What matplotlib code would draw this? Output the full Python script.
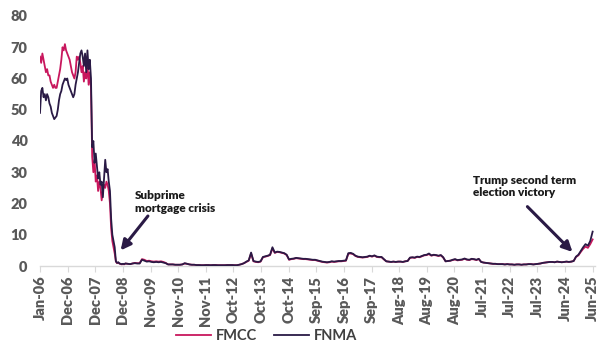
import numpy as np
import pandas as pd
import matplotlib
matplotlib.use("Agg")
import matplotlib.pyplot as plt
from matplotlib.lines import Line2D

plt.rcParams['font.family'] = ['Lato', 'DejaVu Sans']

# ---------------- data ----------------
early_dates = pd.to_datetime([f"{y}-{m:02d}-{d:02d}" for y in (2006, 2007, 2008)
                              for m in range(1, 13) for d in (1, 16)])
late_dates = pd.date_range("2009-01-01", "2025-06-01", freq="MS")

fmcc_early = [67, 65, 68, 66, 64, 62, 63, 61, 61, 59, 58, 57, 58, 57, 57, 59, 61, 63, 66, 70,
              69, 71, 69, 68, 67, 66, 64, 62, 61, 60, 62, 67, 66, 67, 65, 62, 64, 59, 62, 60,
              65, 58, 62, 57, 35, 30, 34, 27, 29, 24, 27, 25, 21, 24, 26, 25, 27, 26, 24, 20,
              12, 8, 6, 4, 1.4, 0.9, 1.1, 0.8, 0.6, 0.5, 0.6, 0.5]
fnma_early = [49, 56, 57, 54, 55, 53, 55, 54, 52, 51, 49, 48, 47, 47.5, 48, 50, 53, 55, 56, 58,
              59, 60, 59.5, 60, 58, 57, 56, 55, 54, 55, 58, 60, 62, 65, 68, 69, 67, 64, 68, 62,
              69, 63, 66, 60, 38, 40, 33, 36, 32, 28, 30, 26, 27, 22, 28, 34, 30, 31, 27, 24,
              15, 10, 8, 6, 1.5, 1.0, 1.2, 0.8, 0.7, 0.6, 0.7, 0.6]

fnma_late = [0.8, 0.7, 0.6, 0.8, 0.9, 0.8, 0.8,
             2.0, 1.7, 1.4, 1.5, 1.3, 1.2, 1.3, 1.2, 1.3, 1.1, 0.9,
             0.5, 0.5, 0.5, 0.4, 0.4, 0.4, 0.5, 0.9, 0.7, 0.5, 0.4, 0.4, 0.3, 0.3, 0.25, 0.25,
             0.3, 0.3, 0.25, 0.3, 0.3, 0.25, 0.25, 0.25, 0.25, 0.3, 0.3, 0.3, 0.25, 0.25, 0.4,
             0.6, 0.9, 1.4,
             1.8, 4.3, 1.6, 1.4, 1.3, 1.5, 2.9, 3.1, 3.3, 3.6, 6.0, 4.3, 4.6, 4.5, 4.3, 4.1, 3.6,
             2.1, 2.3, 2.4, 2.6, 2.5, 2.4, 2.3, 2.3, 2.2, 2.1, 2.0, 2.0, 1.8, 1.6, 1.4, 1.3, 1.2,
             1.3, 1.5, 1.4, 1.5, 1.6, 1.6, 1.7, 1.8,
             4.1, 4.2, 3.9, 3.3, 3.0, 2.9, 2.8, 2.9, 3.0, 3.3, 3.1, 3.4, 3.0, 2.9, 2.9, 2.2, 1.5,
             1.4, 1.3, 1.4, 1.3, 1.4, 1.4, 1.3, 1.5, 1.6,
             2.7, 2.8, 2.7, 3.0, 2.9, 3.2, 3.5, 3.6, 4.0, 3.4, 3.6, 3.5, 3.3, 3.5, 2.8, 1.5, 1.6,
             1.7, 2.0, 2.2, 1.9, 2.0, 2.1, 2.4, 2.1, 2.0, 2.3, 2.2, 2.0, 2.3,
             1.3, 1.1, 1.0, 0.9, 0.8, 0.7, 0.7, 0.6, 0.6, 0.6, 0.5, 0.6, 0.5, 0.5, 0.4, 0.5, 0.5,
             0.4, 0.5, 0.5, 0.6, 0.6, 0.5, 0.6, 0.7, 0.8, 1.0, 1.1, 1.2, 1.3, 1.3, 1.2, 1.4, 1.3,
             1.2, 1.3, 1.4, 1.3, 1.4, 1.6,
             3.0, 3.6, 4.8, 6.0, 7.0, 6.5, 8.0, 11.0]
fmcc_late = [0.8, 0.7, 0.6, 0.8, 1.0, 0.9, 0.9,
             2.2, 2.0, 1.6, 1.7, 1.5, 1.4, 1.5, 1.4, 1.5, 1.3, 1.0,
             0.5, 0.5, 0.5, 0.4, 0.4, 0.4, 0.5, 0.8, 0.7, 0.5, 0.4, 0.4, 0.3, 0.3, 0.25, 0.25,
             0.3, 0.3, 0.25, 0.3, 0.3, 0.25, 0.25, 0.25, 0.25, 0.3, 0.3, 0.3, 0.25, 0.25, 0.4,
             0.6, 0.9, 1.3,
             1.7, 4.0, 1.5, 1.3, 1.2, 1.4, 2.8, 3.0, 3.2, 3.5, 5.6, 4.2, 4.5, 4.4, 4.2, 4.0, 3.5,
             2.0, 2.2, 2.3, 2.5, 2.4, 2.3, 2.2, 2.2, 2.1, 2.0, 1.9, 1.9, 1.7, 1.5, 1.3, 1.2, 1.1,
             1.2, 1.4, 1.3, 1.4, 1.5, 1.5, 1.6, 1.7,
             3.9, 4.0, 3.8, 3.2, 2.9, 2.8, 2.7, 2.8, 2.9, 3.2, 3.0, 3.3, 2.9, 2.8, 2.8, 2.1, 1.5,
             1.4, 1.3, 1.4, 1.3, 1.4, 1.4, 1.3, 1.5, 1.6,
             2.6, 2.7, 2.6, 2.9, 2.8, 3.1, 3.4, 3.5, 3.8, 3.3, 3.5, 3.4, 3.2, 3.4, 2.7, 1.5, 1.6,
             1.7, 1.9, 2.1, 1.8, 1.9, 2.0, 2.3, 2.0, 1.9, 2.2, 2.1, 1.9, 2.2,
             1.3, 1.1, 1.0, 0.9, 0.8, 0.7, 0.7, 0.6, 0.6, 0.6, 0.5, 0.6, 0.5, 0.5, 0.4, 0.5, 0.5,
             0.4, 0.5, 0.5, 0.6, 0.6, 0.5, 0.6, 0.7, 0.8, 1.0, 1.1, 1.2, 1.3, 1.3, 1.2, 1.4, 1.3,
             1.2, 1.3, 1.4, 1.3, 1.4, 1.6,
             2.9, 3.4, 4.5, 5.5, 6.2, 5.8, 7.0, 8.5]

tick_labels = ["Jan-06", "Dec-06", "Dec-07", "Dec-08", "Nov-09", "Nov-10", "Nov-11", "Oct-12",
               "Oct-13", "Oct-14", "Sep-15", "Sep-16", "Sep-17", "Aug-18", "Aug-19", "Aug-20",
               "Jul-21", "Jul-22", "Jul-23", "Jun-24", "Jun-25"]
y_ticks = [0, 10, 20, 30, 40, 50, 60, 70, 80]

# ---------------- build ----------------
dates = early_dates.append(late_dates)
xpos = (dates.year - 2006) * 12 + (dates.month - 1) + (dates.day - 1) / 30.0
fmcc = np.array(fmcc_early + fmcc_late)
fnma = np.array(fnma_early + fnma_late)

FMCC_C = "#C8175D"
FNMA_C = "#2A1A45"
TXT = "#595959"

fig = plt.figure(figsize=(6.13, 3.54), dpi=100)
ax = fig.add_axes([40 / 613, 1 - 266 / 354, 555 / 613, 250 / 354])

ax.plot(xpos, fmcc, color=FMCC_C, lw=1.3, zorder=2)
ax.plot(xpos, fnma, color=FNMA_C, lw=1.3, zorder=3)

ax.set_ylim(0, 80)
ax.set_xlim(0, 234)
ax.set_yticks(y_ticks)
ax.set_yticklabels([str(v) for v in y_ticks], fontsize=10.5, fontweight='heavy', color=TXT)
ax.tick_params(axis='y', length=0, pad=9)

xt = np.linspace(0, 233, len(tick_labels))
ax.set_xticks(xt)
ax.set_xticklabels(tick_labels, rotation=90, fontsize=10.5, fontweight='heavy', color=TXT)
ax.tick_params(axis='x', length=4, color="#D9D9D9", pad=3)

for s in ("top", "right", "left"):
    ax.spines[s].set_visible(False)
ax.spines["bottom"].set_color("#D9D9D9")
ax.spines["bottom"].set_linewidth(1)

# annotations
ax.annotate("", xy=(34.0, 5.0), xytext=(45.5, 16.0),
            arrowprops=dict(arrowstyle="-|>,head_length=0.6,head_width=0.3",
                            color=FNMA_C, lw=2.2, shrinkA=0, shrinkB=0))
ax.text(40.0, 20.5, "Subprime\nmortgage crisis", fontsize=8.5, fontweight='heavy',
        color="#1a1a1a", ha='left', va='center', linespacing=1.15)

ax.annotate("", xy=(224.5, 4.5), xytext=(205.5, 19.0),
            arrowprops=dict(arrowstyle="-|>,head_length=0.6,head_width=0.3",
                            color=FNMA_C, lw=2.2, shrinkA=0, shrinkB=0))
ax.text(182.5, 25.5, "Trump second term\nelection victory", fontsize=8.5, fontweight='heavy',
        color="#1a1a1a", ha='left', va='center', linespacing=1.15)

handles = [Line2D([], [], color=FMCC_C, lw=1.3), Line2D([], [], color=FNMA_C, lw=1.3)]
leg = fig.legend(handles, ["FMCC", "FNMA"], loc='lower center', bbox_to_anchor=(0.435, -0.005),
                 ncol=2, frameon=False, fontsize=10.5, handlelength=2.4, columnspacing=1.2,
                 handletextpad=0.3)
for t in leg.get_texts():
    t.set_color("#404040")
    t.set_fontweight('bold')

fig.savefig("out.png", dpi=100)
